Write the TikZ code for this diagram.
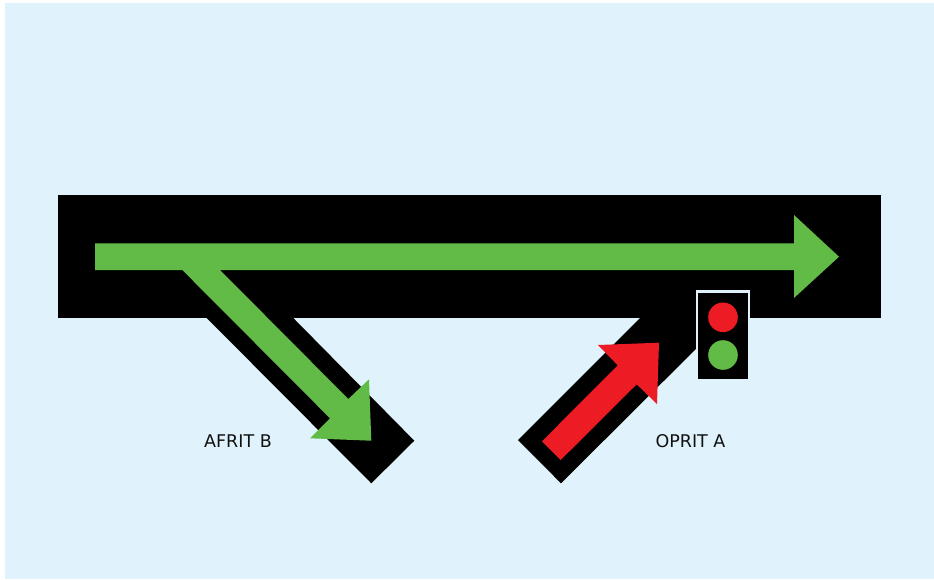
\documentclass[tikz,border=0pt]{standalone}
\usepackage{fontspec}
\setmainfont{DejaVu Sans}
\definecolor{panelblue}{HTML}{E0F3FD}
\definecolor{signgreen}{HTML}{62BB46}
\definecolor{signred}{HTML}{ED1C24}
\definecolor{labelink}{HTML}{111111}
\tikzset{
  road/.style={fill=black,draw=none},
  greenarrow/.style={fill=signgreen,draw=none},
  redarrow/.style={fill=signred,draw=none},
  lamp/.style={circle,minimum size=29.6pt,inner sep=0pt,draw=none},
  roadlabel/.style={text=labelink,font=\fontsize{17.5}{20}\selectfont,inner sep=0pt,anchor=center},
}
\begin{document}
\begin{tikzpicture}[x=1pt,y=-1pt]
\useasboundingbox (0,0) rectangle (934,579);
\fill[white] (0,0) rectangle (934,579);
\fill[panelblue] (5,3) rectangle (934,579);
% roads
\fill[road] (58,195) rectangle (881,318);
\fill[road] (205.7,317) -- (292.3,317) -- (414.3,440.7) -- (371.3,483.3) -- cycle;
\fill[road] (640,318) -- (727,318) -- (561,483.3) -- (518,440) -- cycle;
% green arrows
\fill[greenarrow] (95,243.3) -- (794,243.3) -- (794,215) -- (839,256.7) -- (794,298) -- (794,270)
  -- (220,270) -- (348.3,399) -- (369,379.3) -- (371.3,440.7) -- (310,438.3) -- (330,418.3)
  -- (182.3,270) -- (95,270) -- cycle;
% red arrow
\fill[redarrow] (542,441.3) -- (617.7,365.3) -- (598,345) -- (659,342.7) -- (657,404)
  -- (636.7,384.3) -- (560.7,460) -- cycle;
% traffic light
\filldraw[fill=black,draw=panelblue,line width=2.5pt] (697,291.5) rectangle (749,380.6);
\node[lamp,fill=signred] (redlamp) at (723,317.3) {};
\node[lamp,fill=signgreen] (greenlamp) at (723,355) {};
% labels
\node[roadlabel] (afrit) at (238,441) {AFRIT B};
\node[roadlabel] (oprit) at (690.5,441) {OPRIT A};
\end{tikzpicture}
\end{document}
